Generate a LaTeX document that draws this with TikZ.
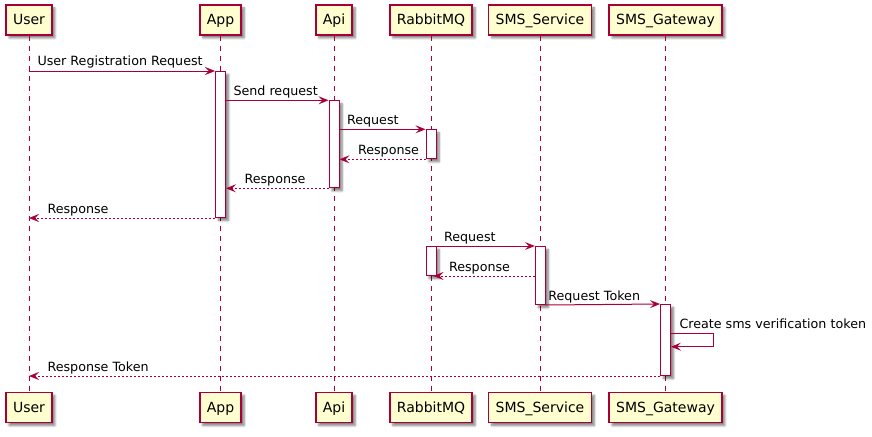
\documentclass[tikz,border=0pt]{standalone}
\usepackage{fontspec}
\setmainfont{DejaVu Sans}
\usetikzlibrary{arrows.meta,shadows.blur}
\definecolor{umlred}{HTML}{A80036}
\definecolor{umlfill}{HTML}{FEFECE}
\tikzset{
  part/.style={draw=umlred, fill=umlfill, line width=1.5pt, minimum height=30pt,
    inner xsep=7pt, text height=10pt, text depth=0pt, font=\fontsize{14}{16}\selectfont,
    blur shadow={shadow xshift=3pt, shadow yshift=-3pt, shadow opacity=50, shadow blur steps=6}},
  lifeline/.style={draw=umlred, line width=1pt, dash pattern=on 5pt off 5pt},
  act/.style={draw=umlred, fill=white, line width=1pt, minimum width=10pt, inner sep=0pt,
    anchor=north, blur shadow={shadow xshift=3pt, shadow yshift=-3pt, shadow opacity=50, shadow blur steps=6}},
  msg/.style={draw=umlred, line width=1pt, -{Stealth[length=10pt, width=8pt, inset=4pt]}},
  reply/.style={msg, dash pattern=on 2pt off 2pt},
  lbl/.style={font=\fontsize{12.7}{15}\selectfont, anchor=base west, inner sep=0pt, text=black}
}
\begin{document}
\begin{tikzpicture}[x=1pt, y=-1pt]
    \useasboundingbox (0,0) rectangle (872,436);
    \node[part] (user-top) at (29,20) {User};
    \node[part] (app-top) at (220.5,20) {App};
    \node[part] (api-top) at (334,20) {Api};
    \node[part] (rmq-top) at (431,20) {RabbitMQ};
    \node[part] (svc-top) at (540,20) {SMS\_Service};
    \node[part] (gw-top) at (665.5,20) {SMS\_Gateway};
    \node[part] (user-bot) at (29,407.5) {User};
    \node[part] (app-bot) at (220.5,407.5) {App};
    \node[part] (api-bot) at (334,407.5) {Api};
    \node[part] (rmq-bot) at (431,407.5) {RabbitMQ};
    \node[part] (svc-bot) at (540,407.5) {SMS\_Service};
    \node[part] (gw-bot) at (665.5,407.5) {SMS\_Gateway};
    \foreach \p in {user,app,api,rmq,svc,gw}
        \draw[lifeline] (\p-top.south) -- (\p-bot.north);

    \node[act, minimum height=146pt] (aApp) at (220.5,71) {};
    \node[act, minimum height=87pt] (aApi) at (334,100.3) {};
    \node[act, minimum height=29pt] (aRmq1) at (431,129.3) {};
    \node[act, minimum height=29pt] (aRmq2) at (431,246) {};
    \node[act, minimum height=58pt] (aSvc) at (540.3,246) {};
    \node[act, minimum height=71pt] (aGw) at (665.5,304) {};

    \draw[msg] (user-top.south |- aApp.north) -- (aApp.north west)
        node[lbl, at start, xshift=8pt, yshift=5pt] {User Registration Request};
    \draw[msg] (aApp.east |- aApi.north) -- (aApi.north west)
        node[lbl, at start, xshift=7pt, yshift=5pt] {Send request};
    \draw[msg] (aApi.east |- aRmq1.north) -- (aRmq1.north west)
        node[lbl, at start, xshift=7pt, yshift=5pt] {Request};
    \draw[reply] (aRmq1.south west) -- (aApi.east |- aRmq1.south)
        node[lbl, at end, xshift=18pt, yshift=5pt] {Response};
    \draw[reply] (aApi.south west) -- (aApp.east |- aApi.south)
        node[lbl, at end, xshift=18pt, yshift=5pt] {Response};
    \draw[reply] (aApp.south west) -- (user-top.south |- aApp.south)
        node[lbl, at end, xshift=18pt, yshift=5pt] {Response};
    \draw[msg] (aRmq2.north east) -- (aSvc.north west)
        node[lbl, at start, xshift=7pt, yshift=5pt] {Request};
    \draw[reply] (aSvc.west |- aRmq2.south) -- ([xshift=-3pt]aRmq2.south east)
        node[lbl, at end, xshift=15pt, yshift=5pt] {Response};
    \draw[msg] (aSvc.south east) -- (aGw.north west)
        node[lbl, at start, xshift=2pt, yshift=5pt] {Request Token};
    \draw[msg] ([yshift=-29pt]aGw.north east) -- ++(42,0)
        node[lbl, pos=0, xshift=8pt, yshift=5pt] {Create sms verification token}
        -- ++(0,13.7) -- ([yshift=-42.7pt]aGw.north east);
    \draw[reply] (aGw.south west) -- (user-top.south |- aGw.south)
        node[lbl, at end, xshift=18pt, yshift=5pt] {Response Token};
\end{tikzpicture}
\end{document}
